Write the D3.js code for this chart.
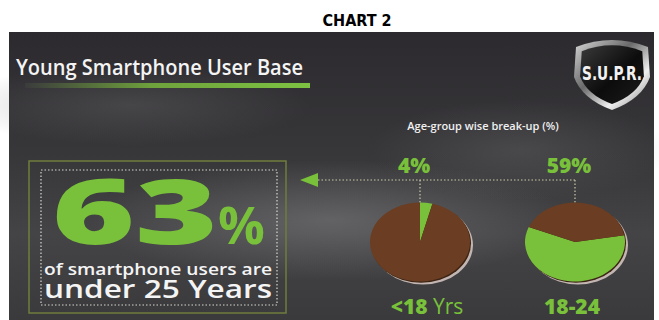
<!DOCTYPE html>
<html>
<head>
<meta charset="utf-8">
<script src="https://cdn.jsdelivr.net/npm/d3@7"></script>
<style>
  html, body { margin: 0; padding: 0; background: #ffffff; }
  svg { display: block; }
</style>
</head>
<body>
<svg id="chart" width="659" height="320"></svg>
<script>
// Age-group breakdown of smartphone users
const headlineShare = 63;
const groups = ["<18", "18-24"];
const groupSuffix = [" Yrs", ""];
const shares = [4, 59];
const startAngles = [0, 80];   // degrees, clockwise from 12 o'clock

const W = 659, H = 320;
const svg = d3.select("#chart");
const defs = svg.append("defs");

const green = "#79c13a";
const brown = "#6b3d22";

// --- backdrop gradients ---
const bg = defs.append("linearGradient").attr("id", "bgLin").attr("x1", 0).attr("y1", 0).attr("x2", 0).attr("y2", 1);
bg.append("stop").attr("offset", "0%").attr("stop-color", "#2c2a2e");
bg.append("stop").attr("offset", "45%").attr("stop-color", "#38373a");
bg.append("stop").attr("offset", "70%").attr("stop-color", "#444446");
bg.append("stop").attr("offset", "100%").attr("stop-color", "#3a393c");

const haze = defs.append("radialGradient").attr("id", "haze").attr("cx", 0.5).attr("cy", 0.5).attr("r", 0.5);
haze.append("stop").attr("offset", "0%").attr("stop-color", "#8a8a8c").attr("stop-opacity", 0.45);
haze.append("stop").attr("offset", "100%").attr("stop-color", "#8a8a8c").attr("stop-opacity", 0);

const haze2 = defs.append("radialGradient").attr("id", "haze2").attr("cx", 0.5).attr("cy", 0.5).attr("r", 0.5);
haze2.append("stop").attr("offset", "0%").attr("stop-color", "#6a6a6c").attr("stop-opacity", 0.35);
haze2.append("stop").attr("offset", "100%").attr("stop-color", "#6a6a6c").attr("stop-opacity", 0);

const bar = defs.append("linearGradient").attr("id", "titleBar");
bar.append("stop").attr("offset", "0%").attr("stop-color", "#3b3b3c");
bar.append("stop").attr("offset", "45%").attr("stop-color", "#6fa23c");
bar.append("stop").attr("offset", "100%").attr("stop-color", "#7dc242");

const metal = defs.append("linearGradient").attr("id", "metal").attr("x1", 0).attr("y1", 0).attr("x2", 1).attr("y2", 1);
metal.append("stop").attr("offset", "0%").attr("stop-color", "#d8d8d8");
metal.append("stop").attr("offset", "40%").attr("stop-color", "#6a6a6a");
metal.append("stop").attr("offset", "70%").attr("stop-color", "#f0f0f0");
metal.append("stop").attr("offset", "100%").attr("stop-color", "#7a7a7a");

const inner = defs.append("linearGradient").attr("id", "shieldInner").attr("x1", 0).attr("y1", 0).attr("x2", 1).attr("y2", 1);
inner.append("stop").attr("offset", "0%").attr("stop-color", "#3a3a3a");
inner.append("stop").attr("offset", "55%").attr("stop-color", "#0c0c0c");
inner.append("stop").attr("offset", "100%").attr("stop-color", "#1c1c1c");

// --- header ---
svg.append("text")
  .attr("x", 357).attr("y", 26)
  .attr("text-anchor", "middle")
  .attr("font-family", "'Liberation Sans Narrow', 'DejaVu Sans Condensed', sans-serif")
  .attr("font-weight", "bold").attr("font-size", 16).attr("fill", "#000")
  .text("CHART 2");

// --- dark panel ---
const panel = { x: 9, y: 32, w: 645, h: 288 };
svg.append("rect").attr("x", panel.x).attr("y", panel.y).attr("width", panel.w).attr("height", panel.h).attr("fill", "url(#bgLin)");
const hz = svg.append("g");
hz.append("ellipse").attr("cx", 330).attr("cy", 220).attr("rx", 240).attr("ry", 60).attr("fill", "url(#haze)");
hz.append("ellipse").attr("cx", 130).attr("cy", 105).attr("rx", 180).attr("ry", 40).attr("fill", "url(#haze2)");
hz.append("ellipse").attr("cx", 520).attr("cy", 150).attr("rx", 150).attr("ry", 50).attr("fill", "url(#haze2)");

// --- title ---
svg.append("text")
  .attr("x", 16).attr("y", 75)
  .attr("font-family", "'Open Sans', 'DejaVu Sans', sans-serif")
  .attr("font-weight", 600).attr("font-size", 22).attr("fill", "#f4f4f4")
  .attr("textLength", 287).attr("lengthAdjust", "spacingAndGlyphs")
  .text("Young Smartphone User Base");
svg.append("rect").attr("x", 25).attr("y", 83).attr("width", 285).attr("height", 5).attr("fill", "url(#titleBar)");

// --- logo shield ---
const logo = svg.append("g").attr("transform", "translate(612,73)");
const shieldPath = (s) => {
  const p = d3.path();
  p.moveTo(-36 * s, -26 * s);
  p.quadraticCurveTo(0, -40 * s, 36 * s, -26 * s);
  p.lineTo(38 * s, 4 * s);
  p.quadraticCurveTo(30 * s, 26 * s, 0, 37 * s);
  p.quadraticCurveTo(-30 * s, 26 * s, -38 * s, 4 * s);
  p.closePath();
  return p.toString();
};
logo.append("path").attr("d", shieldPath(1)).attr("fill", "url(#metal)");
logo.append("path").attr("d", shieldPath(0.84)).attr("fill", "url(#shieldInner)");
logo.append("text")
  .attr("x", 0).attr("y", 7).attr("text-anchor", "middle")
  .attr("font-family", "'DejaVu Sans Condensed', 'Liberation Sans Narrow', sans-serif")
  .attr("font-weight", "bold").attr("font-size", 19).attr("fill", "#f2f2f2")
  .attr("textLength", 60).attr("lengthAdjust", "spacingAndGlyphs")
  .text("S.U.P.R.");

// --- headline box ---
svg.append("rect").attr("x", 29).attr("y", 161).attr("width", 257).attr("height", 152)
  .attr("fill", "none").attr("stroke", "#6f7d3c").attr("stroke-width", 1.5);
svg.append("rect").attr("x", 41).attr("y", 170).attr("width", 236).attr("height", 135)
  .attr("fill", "none").attr("stroke", "#d8d8d0").attr("stroke-width", 1.2).attr("stroke-dasharray", "1.5,2");

const big = svg.append("text")
  .attr("x", 52).attr("y", 244)
  .attr("font-family", "'Open Sans', 'DejaVu Sans', sans-serif")
  .attr("font-weight", 800).attr("fill", green);
big.append("tspan").attr("font-size", 90).attr("textLength", 166).attr("lengthAdjust", "spacingAndGlyphs").text(String(headlineShare));
big.append("tspan").attr("font-size", 52).attr("font-weight", 700).text("%");

svg.append("text")
  .attr("x", 158).attr("y", 275).attr("text-anchor", "middle")
  .attr("font-family", "'Open Sans', 'DejaVu Sans', sans-serif")
  .attr("font-weight", 600).attr("font-size", 16).attr("fill", "#f4f4f4")
  .attr("textLength", 228).attr("lengthAdjust", "spacingAndGlyphs")
  .text("of smartphone users are");
svg.append("text")
  .attr("x", 158).attr("y", 298).attr("text-anchor", "middle")
  .attr("font-family", "'Open Sans', 'DejaVu Sans', sans-serif")
  .attr("font-weight", 600).attr("font-size", 26).attr("fill", "#f4f4f4")
  .attr("textLength", 228).attr("lengthAdjust", "spacingAndGlyphs")
  .text("under 25 Years");

// --- breakdown pies ---
svg.append("text")
  .attr("x", 483).attr("y", 130).attr("text-anchor", "middle")
  .attr("font-family", "'Open Sans', 'DejaVu Sans', sans-serif")
  .attr("font-weight", 600).attr("font-size", 11).attr("fill", "#f0f0f0")
  .text("Age-group wise break-up (%)");

const x = d3.scalePoint().domain(groups).range([420, 575]);
const rx = 50, ry = 39.5, cy = 242;

// dotted connector with arrow head
const lineY = 180;
const conn = svg.append("g").attr("stroke", "#c9c9a8").attr("stroke-width", 1.2).attr("stroke-dasharray", "1.5,2").attr("fill", "none");
conn.append("line").attr("x1", 318).attr("x2", x(groups[1])).attr("y1", lineY).attr("y2", lineY);
groups.forEach(g => {
  conn.append("line").attr("x1", x(g)).attr("x2", x(g)).attr("y1", lineY).attr("y2", cy - ry);
});
svg.append("path")
  .attr("d", d3.line()([[300, lineY], [318, lineY - 7], [318, lineY + 7]]) + "Z")
  .attr("fill", green);

const pie = d3.pie().sort(null).value(d => d);
const arc = d3.arc().innerRadius(0).outerRadius(rx);

groups.forEach((g, i) => {
  const cx = x(g);
  const gp = svg.append("g").attr("transform", `translate(${cx},${cy})`);
  // rim under the disc
  gp.append("ellipse").attr("cx", 3).attr("cy", 3).attr("rx", rx).attr("ry", ry).attr("fill", "#c3b6b2");
  gp.append("ellipse").attr("cx", 1).attr("cy", 1.2).attr("rx", rx).attr("ry", ry).attr("fill", "#3b2414");
  const a0 = startAngles[i] * Math.PI / 180;
  const slices = pie.startAngle(a0).endAngle(a0 + 2 * Math.PI)([shares[i], 100 - shares[i]]);
  gp.append("g").attr("transform", `scale(1,${ry / rx})`)
    .selectAll("path").data(slices).join("path")
    .attr("d", arc)
    .attr("fill", (d, j) => j === 0 ? green : brown);

  svg.append("text")
    .attr("x", cx - 6).attr("y", 173).attr("text-anchor", "middle")
    .attr("font-family", "'Open Sans', 'DejaVu Sans', sans-serif")
    .attr("font-weight", 800).attr("font-size", 21).attr("fill", green)
    .text(shares[i] + "%");

  const lab = svg.append("text")
    .attr("x", cx + (i === 0 ? 7 : -3)).attr("y", 314).attr("text-anchor", "middle")
    .attr("font-family", "'Open Sans', 'DejaVu Sans', sans-serif")
    .attr("font-size", 21).attr("fill", green);
  lab.append("tspan").attr("font-weight", 800).text(g);
  if (groupSuffix[i]) lab.append("tspan").attr("font-weight", 400).text(groupSuffix[i]);
});
</script>
</body>
</html>
